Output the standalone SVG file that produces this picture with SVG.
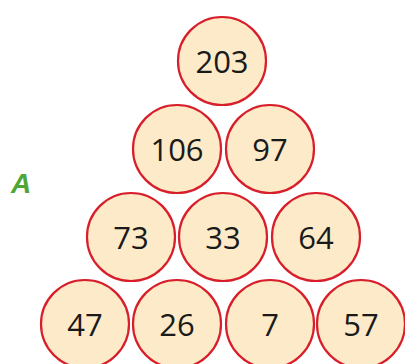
<svg xmlns="http://www.w3.org/2000/svg" width="405" height="364" viewBox="0 0 405 364">
<style>
.c{fill:#fdeac8;stroke:#d81e2a;stroke-width:2.2}
.t{font-family:"Open Sans","Liberation Sans",sans-serif;font-size:31px;fill:#1a1a1a;text-anchor:middle;dominant-baseline:central}
.a{font-family:"Liberation Sans",sans-serif;font-size:28px;font-weight:bold;font-style:italic;fill:#4ea636}
</style>
<rect width="405" height="364" fill="#ffffff"/>
<text class="a" x="11" y="193">A</text>
<g id="connectors"></g>
<g id="n203"><circle class="c" cx="222" cy="61" r="44"/><text class="t" x="222" y="61">203</text></g>
<g id="n106"><circle class="c" cx="177" cy="149" r="44"/><text class="t" x="177" y="149">106</text></g>
<g id="n97"><circle class="c" cx="270" cy="149" r="44"/><text class="t" x="270" y="149">97</text></g>
<g id="n73"><circle class="c" cx="131" cy="237" r="44"/><text class="t" x="131" y="237">73</text></g>
<g id="n33"><circle class="c" cx="223" cy="237" r="44"/><text class="t" x="223" y="237">33</text></g>
<g id="n64"><circle class="c" cx="316" cy="237" r="44"/><text class="t" x="316" y="237">64</text></g>
<g id="n47"><circle class="c" cx="85" cy="324" r="44"/><text class="t" x="85" y="324">47</text></g>
<g id="n26"><circle class="c" cx="177" cy="324" r="44"/><text class="t" x="177" y="324">26</text></g>
<g id="n7"><circle class="c" cx="270" cy="324" r="44"/><text class="t" x="270" y="324">7</text></g>
<g id="n57"><circle class="c" cx="361" cy="324" r="44"/><text class="t" x="361" y="324">57</text></g>
</svg>
